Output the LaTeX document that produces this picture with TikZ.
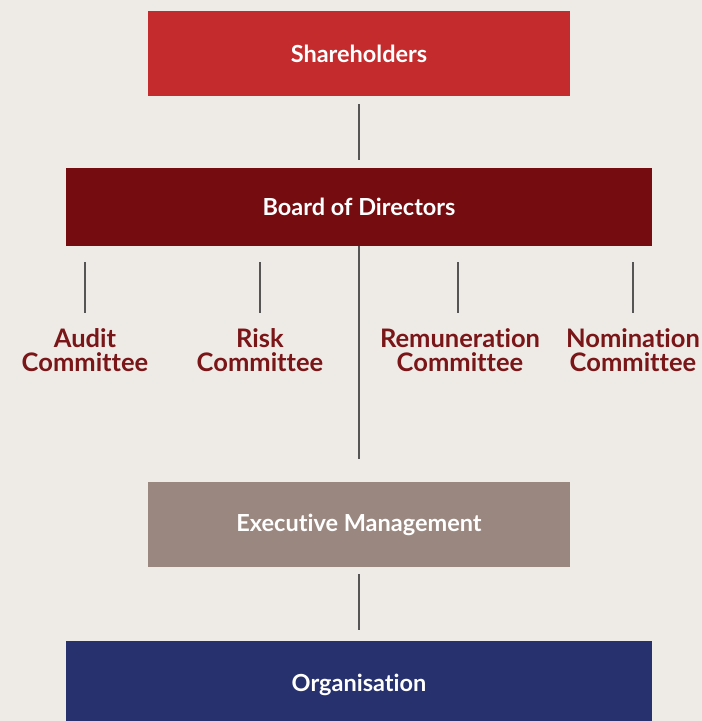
\documentclass[tikz,border=0pt]{standalone}
\usepackage{fontspec}
\setmainfont{Lato}[RawFeature=-liga]
\definecolor{bg}{HTML}{EEEBE7}
\definecolor{sharered}{HTML}{C42B2D}
\definecolor{boardred}{HTML}{750D10}
\definecolor{comred}{HTML}{7A1518}
\definecolor{execgray}{HTML}{9A8780}
\definecolor{orgblue}{HTML}{27316E}
\definecolor{linegray}{HTML}{555555}
\begin{document}
\begin{tikzpicture}[x=1pt,y=-1pt,
  box/.style={rectangle, inner sep=0pt, text=white, font=\bfseries\fontsize{23.5}{26}\selectfont},
  comm/.style={align=center, inner sep=0pt, text=comred, font=\bfseries\fontsize{25.5}{24}\selectfont},
  link/.style={draw=linegray, line width=1.2pt}]
  \fill[bg] (0,0) rectangle (702,721);
  \useasboundingbox (0,0) rectangle (702,721);

  % main chain of boxes
  \node[box, fill=sharered, minimum width=422pt, minimum height=85pt] (sh) at (359,53.5) {Shareholders};
  \node[box, fill=boardred, minimum width=586pt, minimum height=78pt] (bd) at (359,207) {Board of Directors};
  \node[box, fill=execgray, minimum width=422pt, minimum height=85pt] (ex) at (359,524.5) {Executive Management};
  % bottom box runs past the lower edge of the page
  \node[box, fill=orgblue, minimum width=586pt, minimum height=88pt] (org) at (359,685) {Organisation};

  % committees
  \node[comm] (audit) at (85,350) {Audit\\Committee};
  \node[comm] (risk) at (260,350) {Risk\\Committee};
  \node[comm] (rem) at (460,350) {Remuneration\\Committee};
  \node[comm] (nom) at (633,350) {Nomination\\Committee};

  % connector end points
  \coordinate (a1) at (85,262);  \coordinate (a2) at (85,313);
  \coordinate (r1) at (260,262); \coordinate (r2) at (260,313);
  \coordinate (m1) at (458,262); \coordinate (m2) at (458,313);
  \coordinate (n1) at (633,262); \coordinate (n2) at (633,313);
  \coordinate (s1) at (359,104); \coordinate (s2) at (359,160);
  \coordinate (b1) at (359,246); \coordinate (b2) at (359,459);
  \coordinate (e1) at (359,574); \coordinate (e2) at (359,630);

  \draw[link] (s1) -- (s2);
  \draw[link] (b1) -- (b2);
  \draw[link] (e1) -- (e2);
  \draw[link] (a1) -- (a2);
  \draw[link] (r1) -- (r2);
  \draw[link] (m1) -- (m2);
  \draw[link] (n1) -- (n2);
\end{tikzpicture}
\end{document}
